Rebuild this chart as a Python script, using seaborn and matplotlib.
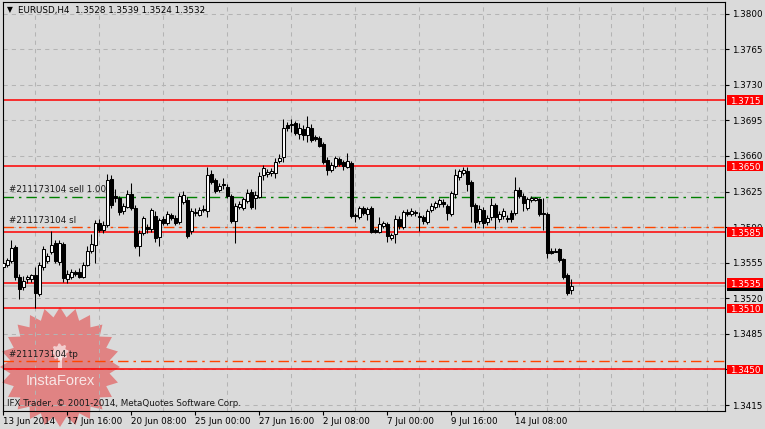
import numpy as np
import pandas as pd
import seaborn as sns
import matplotlib.pyplot as plt
from matplotlib.patches import Rectangle, Polygon
from matplotlib.transforms import blended_transform_factory, offset_copy

# EURUSD H4 candles, 13 Jun 2014 -> 15 Jul 2014
opens = [
    1.3551, 1.3553, 1.3557, 1.3570, 1.3541, 1.3531, 1.3539, 1.3539, 1.3543, 1.3524,
    1.3551, 1.3557, 1.3566, 1.3574, 1.3556, 1.3573, 1.3539, 1.3541, 1.3546, 1.3546,
    1.3541, 1.3553, 1.3567, 1.3572, 1.3594, 1.3587, 1.3592, 1.3637, 1.3621, 1.3619,
    1.3606, 1.3610, 1.3623, 1.3609, 1.3571, 1.3584, 1.3590, 1.3588, 1.3601, 1.3580,
    1.3598, 1.3594, 1.3602, 1.3599, 1.3595, 1.3615, 1.3617, 1.3586, 1.3604, 1.3602,
    1.3608, 1.3606, 1.3642, 1.3636, 1.3627, 1.3632, 1.3629, 1.3621, 1.3596, 1.3610,
    1.3609, 1.3616, 1.3625, 1.3619, 1.3620, 1.3641, 1.3642, 1.3643, 1.3643, 1.3655,
    1.3659, 1.3690, 1.3690, 1.3692, 1.3682, 1.3687, 1.3681, 1.3688, 1.3679, 1.3678,
    1.3672, 1.3656, 1.3646, 1.3650, 1.3657, 1.3654, 1.3649, 1.3653, 1.3602, 1.3600,
    1.3609, 1.3603, 1.3609, 1.3587, 1.3585, 1.3591, 1.3593, 1.3579, 1.3583, 1.3598,
    1.3590, 1.3605, 1.3603, 1.3605, 1.3601, 1.3600, 1.3595, 1.3607, 1.3610, 1.3613,
    1.3615, 1.3611, 1.3603, 1.3623, 1.3639, 1.3643, 1.3645, 1.3634, 1.3612, 1.3596,
    1.3607, 1.3595, 1.3600, 1.3612, 1.3598, 1.3601, 1.3599, 1.3604, 1.3604, 1.3627,
    1.3621, 1.3609, 1.3617, 1.3617, 1.3618, 1.3604, 1.3603, 1.3567, 1.3567, 1.3568,
    1.3559, 1.3543, 1.3528,
]
highs = [
    1.3559, 1.3560, 1.3577, 1.3572, 1.3544, 1.3542, 1.3543, 1.3544, 1.3551, 1.3556,
    1.3571, 1.3565, 1.3586, 1.3577, 1.3577, 1.3575, 1.3548, 1.3549, 1.3548, 1.3550,
    1.3556, 1.3571, 1.3583, 1.3597, 1.3598, 1.3596, 1.3642, 1.3641, 1.3628, 1.3621,
    1.3614, 1.3627, 1.3633, 1.3612, 1.3587, 1.3601, 1.3593, 1.3609, 1.3606, 1.3599,
    1.3601, 1.3606, 1.3604, 1.3602, 1.3624, 1.3626, 1.3620, 1.3609, 1.3609, 1.3610,
    1.3612, 1.3649, 1.3646, 1.3638, 1.3633, 1.3638, 1.3632, 1.3623, 1.3614, 1.3616,
    1.3620, 1.3628, 1.3628, 1.3626, 1.3644, 1.3651, 1.3647, 1.3648, 1.3658, 1.3662,
    1.3696, 1.3693, 1.3696, 1.3694, 1.3692, 1.3690, 1.3699, 1.3691, 1.3681, 1.3680,
    1.3674, 1.3659, 1.3654, 1.3660, 1.3659, 1.3656, 1.3663, 1.3655, 1.3604, 1.3611,
    1.3611, 1.3610, 1.3611, 1.3589, 1.3600, 1.3596, 1.3595, 1.3584, 1.3602, 1.3601,
    1.3607, 1.3608, 1.3609, 1.3607, 1.3605, 1.3602, 1.3608, 1.3614, 1.3616, 1.3619,
    1.3618, 1.3613, 1.3626, 1.3647, 1.3647, 1.3649, 1.3649, 1.3636, 1.3614, 1.3612,
    1.3610, 1.3602, 1.3619, 1.3614, 1.3606, 1.3609, 1.3602, 1.3607, 1.3639, 1.3629,
    1.3624, 1.3620, 1.3621, 1.3620, 1.3619, 1.3619, 1.3605, 1.3569, 1.3569, 1.3569,
    1.3560, 1.3545, 1.3539,
]
lows = [
    1.3546, 1.3551, 1.3555, 1.3538, 1.3519, 1.3528, 1.3535, 1.3536, 1.3510, 1.3522,
    1.3548, 1.3555, 1.3564, 1.3555, 1.3553, 1.3536, 1.3535, 1.3539, 1.3542, 1.3540,
    1.3540, 1.3552, 1.3565, 1.3555, 1.3585, 1.3584, 1.3590, 1.3609, 1.3615, 1.3602,
    1.3603, 1.3609, 1.3607, 1.3569, 1.3562, 1.3582, 1.3584, 1.3585, 1.3575, 1.3571,
    1.3592, 1.3592, 1.3597, 1.3592, 1.3593, 1.3613, 1.3579, 1.3583, 1.3601, 1.3601,
    1.3605, 1.3600, 1.3632, 1.3624, 1.3625, 1.3628, 1.3619, 1.3594, 1.3574, 1.3608,
    1.3607, 1.3614, 1.3608, 1.3608, 1.3619, 1.3636, 1.3639, 1.3640, 1.3638, 1.3653,
    1.3654, 1.3685, 1.3684, 1.3681, 1.3677, 1.3676, 1.3674, 1.3674, 1.3675, 1.3669,
    1.3652, 1.3641, 1.3644, 1.3648, 1.3650, 1.3646, 1.3648, 1.3599, 1.3595, 1.3598,
    1.3602, 1.3597, 1.3584, 1.3584, 1.3584, 1.3589, 1.3575, 1.3577, 1.3574, 1.3588,
    1.3588, 1.3601, 1.3601, 1.3601, 1.3586, 1.3593, 1.3593, 1.3605, 1.3608, 1.3610,
    1.3610, 1.3597, 1.3601, 1.3619, 1.3636, 1.3641, 1.3626, 1.3595, 1.3589, 1.3593,
    1.3589, 1.3592, 1.3597, 1.3588, 1.3595, 1.3598, 1.3595, 1.3595, 1.3602, 1.3619,
    1.3606, 1.3607, 1.3615, 1.3616, 1.3601, 1.3587, 1.3560, 1.3564, 1.3566, 1.3556,
    1.3539, 1.3523, 1.3524,
]
closes = [
    1.3555, 1.3558, 1.3569, 1.3541, 1.3529, 1.3537, 1.3541, 1.3543, 1.3525, 1.3553,
    1.3568, 1.3562, 1.3572, 1.3557, 1.3574, 1.3540, 1.3544, 1.3546, 1.3544, 1.3541,
    1.3553, 1.3567, 1.3573, 1.3594, 1.3587, 1.3592, 1.3636, 1.3612, 1.3619, 1.3605,
    1.3611, 1.3623, 1.3609, 1.3571, 1.3584, 1.3599, 1.3588, 1.3607, 1.3579, 1.3597,
    1.3594, 1.3603, 1.3599, 1.3594, 1.3621, 1.3622, 1.3581, 1.3606, 1.3605, 1.3607,
    1.3607, 1.3641, 1.3634, 1.3626, 1.3630, 1.3631, 1.3621, 1.3596, 1.3611, 1.3613,
    1.3618, 1.3624, 1.3610, 1.3622, 1.3640, 1.3648, 1.3644, 1.3645, 1.3654, 1.3658,
    1.3688, 1.3688, 1.3691, 1.3683, 1.3688, 1.3681, 1.3689, 1.3676, 1.3677, 1.3670,
    1.3654, 1.3646, 1.3651, 1.3658, 1.3652, 1.3650, 1.3655, 1.3601, 1.3601, 1.3609,
    1.3604, 1.3608, 1.3585, 1.3585, 1.3593, 1.3594, 1.3581, 1.3582, 1.3598, 1.3591,
    1.3605, 1.3603, 1.3606, 1.3604, 1.3600, 1.3596, 1.3606, 1.3611, 1.3614, 1.3617,
    1.3613, 1.3604, 1.3624, 1.3641, 1.3645, 1.3646, 1.3632, 1.3611, 1.3595, 1.3608,
    1.3594, 1.3599, 1.3612, 1.3600, 1.3603, 1.3606, 1.3598, 1.3598, 1.3627, 1.3621,
    1.3614, 1.3618, 1.3619, 1.3619, 1.3603, 1.3603, 1.3565, 1.3565, 1.3566, 1.3558,
    1.3541, 1.3525, 1.3532,
]

date_labels = ['13 Jun 2014', '17 Jun 16:00', '20 Jun 08:00', '25 Jun 00:00', '27 Jun 16:00',
               '2 Jul 08:00', '7 Jul 00:00', '9 Jul 16:00', '14 Jul 08:00']
date_bars = [0, 16, 32, 48, 64, 80, 96, 112, 128]

price_ticks = [1.3800, 1.3765, 1.3730, 1.3695, 1.3660, 1.3625, 1.3590,
               1.3555, 1.3520, 1.3485, 1.3450, 1.3415]

red_levels = [1.3715, 1.3650, 1.3585, 1.3535, 1.3510, 1.3450]
order_open = 1.3620
order_sl = 1.3590
order_tp = 1.3458
bid = 1.3532
order_id = '#211173104'

df = pd.DataFrame({'open': opens, 'high': highs, 'low': lows, 'close': closes})
df['bar'] = np.arange(len(df))
df['up'] = df['close'] >= df['open']
df['bottom'] = df[['open', 'close']].min(axis=1)
df['body'] = (df['close'] - df['open']).abs()

bg = '#dadada'
sns.set_theme(style='ticks', rc={'axes.facecolor': bg, 'figure.facecolor': bg,
                                 'axes.edgecolor': 'black', 'lines.scale_dashes': False})
plt.rcParams['font.family'] = ['DejaVu Sans']
fs = 6.3

W, H = 765, 429
fig = plt.figure(figsize=(W / 100, H / 100), dpi=100)
ax = fig.add_axes([2.5 / W, 18 / H, 722 / W, 409 / H])
ax.set_axisbelow('line')
ymin, ymax = 1.34091, 1.38115
ax.set_xlim(-0.2, 180.3)
ax.set_ylim(ymin, ymax)
for s in ax.spines.values():
    s.set_color('black')
    s.set_linewidth(0.8)

# grid + ticks (labels hidden under the red price boxes are left blank)
covered = {f'{lv:.4f}' for lv in red_levels} | {'1.3450'}
ax.set_xticks(np.arange(0, 181, 8), minor=True)
ax.set_xticks(date_bars)
ax.set_xticklabels(date_labels, ha='left')
ax.set_yticks(price_ticks)
ax.set_yticklabels([f'{p:.4f}' if f'{p:.4f}' not in covered else '' for p in price_ticks])
grid_kw = dict(color='#b4b4b4', lw=0.75, ls=(0, (3, 3)))
ax.grid(which='minor', axis='x', **grid_kw)
ax.grid(which='major', axis='y', **grid_kw)
ax.yaxis.tick_right()
ax.tick_params(axis='y', which='major', length=3, width=0.8, pad=2.5, labelsize=fs, colors='black')
ax.tick_params(axis='x', which='major', length=3, width=0.8, pad=1.5, labelsize=fs, colors='black')
ax.tick_params(axis='x', which='minor', length=0)

# InstaForex watermark
n = 24
ang = np.linspace(0, 2 * np.pi, 2 * n, endpoint=False) + np.pi / 2
rad = np.where(np.arange(2 * n) % 2 == 0, 60, 50)
cx, cy = 60, 367
star = np.column_stack([(cx + rad * np.cos(ang)) / W, 1 - (cy - rad * np.sin(ang)) / H])
ax.add_patch(Polygon(star, closed=True, transform=fig.transFigure, fc='#e64444', ec='none',
                     alpha=0.58, clip_on=False, zorder=1.2))
gang = np.linspace(0, 2 * np.pi, 32, endpoint=False)
grad = np.where((np.arange(32) // 2) % 2 == 0, 8.5, 6.5)
gear = np.column_stack([(cx + grad * np.cos(gang)) / W, 1 - (352 - grad * np.sin(gang)) / H])
ax.add_patch(Polygon(gear, closed=True, transform=fig.transFigure, fc='white', ec='none',
                     alpha=0.6, clip_on=False, zorder=1.3))
ax.add_patch(Rectangle(((cx - 2) / W, 1 - 368 / H), 4 / W, 12 / H, transform=fig.transFigure,
                       fc='white', ec='none', alpha=0.6, clip_on=False, zorder=1.3))
fig.text(cx / W, 1 - 381 / H, 'InstaForex', color='white', alpha=0.8, fontsize=10.5,
         family='Liberation Sans', ha='center', va='center')

# candles
ax.vlines(df['bar'], df['low'], df['high'], color='black', lw=0.75, zorder=2.9)
ax.bar(df['bar'], df['body'], bottom=df['bottom'], width=0.62,
       color=np.where(df['up'], 'white', 'black'), edgecolor='black', linewidth=0.75, zorder=3)

# horizontal levels and order lines
ax.axhline(bid, color='#bcbcbc', lw=1.1, zorder=1.8)
for lv in red_levels:
    ax.axhline(lv, color='red', lw=1.1, zorder=2)
dashdot = (0, (7.5, 3.6, 1.8, 3.6))
ax.axhline(order_open, color='#008000', lw=1.0, ls=dashdot, zorder=2)
ax.axhline(order_sl, color='#ff4500', lw=1.0, ls=dashdot, zorder=2)
ax.axhline(order_tp, color='#ff4500', lw=1.0, ls=dashdot, zorder=2)

above = offset_copy(ax.transData, fig=fig, x=0, y=2.5, units='dots')
for lv, txt in [(order_open, f'{order_id} sell 1.00'), (order_sl, f'{order_id} sl'),
                (order_tp, f'{order_id} tp')]:
    ax.text(1.4, lv, txt, transform=above, fontsize=fs, color='#1a1a1a', va='bottom', ha='left', zorder=4)

# price boxes on the right axis
trans = blended_transform_factory(ax.transAxes, ax.transData)
unit_px = 409 / (ymax - ymin)
x0, bw, bh = (727 - 2.5) / 722, 36 / 722, 9.5 / unit_px


def price_box(y, fc, z, label=True):
    ax.add_patch(Rectangle((x0, y - bh / 2), bw, bh, transform=trans, fc=fc, ec='none',
                           clip_on=False, zorder=z))
    if label:
        ax.text(x0 + bw / 2, y, f'{y:.4f}', transform=trans, color='white', fontsize=fs,
                ha='center', va='center_baseline', clip_on=False, zorder=z + 0.1)


# the bid box sits mostly under the 1.3535 box, only its lower edge shows
price_box(bid, 'black', 6, label=False)
for lv in red_levels:
    price_box(lv, 'red', 7)

fig.text(7 / W, 1 - 10 / H, '\u25bc', fontsize=5.5, color='black', va='center', ha='left')
fig.text(18 / W, 1 - 10 / H, 'EURUSD,H4  1.3528 1.3539 1.3524 1.3532', fontsize=fs,
         color='black', va='center', ha='left')
fig.text(7 / W, 1 - 403 / H, 'IFX Trader, \u00a9 2001-2014, MetaQuotes Software Corp.',
         fontsize=fs, color='#1a1a1a', va='center', ha='left')

fig.savefig('out.png', dpi=100, facecolor=bg)
